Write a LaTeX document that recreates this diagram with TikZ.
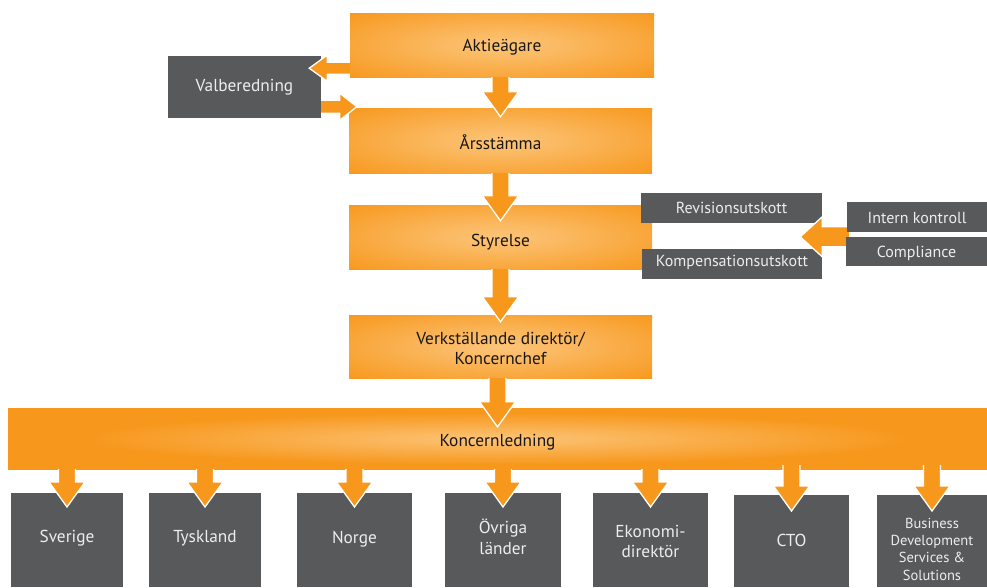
\documentclass[tikz,border=0pt]{standalone}
\usepackage{fontspec}
\setmainfont{PT Sans}
\usetikzlibrary{calc}
\pgfdeclarelayer{front}
\pgfsetlayers{main,front}
\definecolor{orng}{HTML}{F7981D}
\definecolor{glow}{HTML}{FCC478}
\definecolor{gry}{HTML}{58595B}
\definecolor{txtd}{HTML}{1A1718}
\definecolor{txtl}{HTML}{EDEDED}
\pgfdeclareradialshading{boxglow}{\pgfpoint{0bp}{0bp}}{color(0bp)=(glow); color(10bp)=(glow!75!orng); color(36bp)=(orng); color(50bp)=(orng)}
\pgfdeclareradialshading{barglow}{\pgfpoint{0bp}{0bp}}{color(0bp)=(glow); color(4bp)=(glow!80!orng); color(21bp)=(orng); color(50bp)=(orng)}
\tikzset{
  obox/.style={rectangle, inner sep=0pt, shading=boxglow, text=txtd,
    font=\fontsize{17.3}{20}\selectfont},
  gbox/.style={rectangle, inner sep=0pt, fill=gry, text=txtl,
    font=\fontsize{17.3}{21}\selectfont},
  sbox/.style={gbox, font=\fontsize{16}{18}\selectfont},
  bbox/.style={gbox, anchor=north, minimum height=94pt},
  bdown/.style={text height=#1pt, text depth=0pt},   % first baseline #1/2 below centre
  bup/.style={text height=0pt, text depth=#1pt},     % first baseline #1/2 above centre
  afill/.style={fill=orng},
  aline/.style={draw=white, line width=1.3pt, line join=miter},
}
\newcommand\lines[1]{\begin{tabular}[t]{@{}c@{}}#1\end{tabular}}
% down arrow: #1 start point (its y), #2 target node, #3 overlap of tip into target
\newcommand\dnarrow[3]{%
  \path let \p1=#1, \p2=(#2.north) in [afill]
    (\x2-8.5pt,\y1) -- (\x2-8.5pt,\y2-#3pt+25pt) -- (\x2-18pt,\y2-#3pt+25pt) -- (\x2,\y2-#3pt)
    -- (\x2+18pt,\y2-#3pt+25pt) -- (\x2+8.5pt,\y2-#3pt+25pt) -- (\x2+8.5pt,\y1) -- cycle;
  \path let \p1=#1, \p2=(#2.north) in [aline]
    (\x2-8.5pt,\y1) -- (\x2-8.5pt,\y2-#3pt+25pt) -- (\x2-18pt,\y2-#3pt+25pt) -- (\x2,\y2-#3pt)
    -- (\x2+18pt,\y2-#3pt+25pt) -- (\x2+8.5pt,\y2-#3pt+25pt) -- (\x2+8.5pt,\y1);
}
% horizontal arrow: #1 start point, #2 tip point (x only), #3 shaft half, #4 head half,
% #5 head length (positive: points left, negative: points right)
\newcommand\harrow[5]{%
  \path let \p1=#1, \p2=#2 in [afill]
    (\x1,\y1+#3pt) -- (\x2+#5pt,\y1+#3pt) -- (\x2+#5pt,\y1+#4pt) -- (\x2,\y1)
    -- (\x2+#5pt,\y1-#4pt) -- (\x2+#5pt,\y1-#3pt) -- (\x1,\y1-#3pt) -- cycle;
  \path let \p1=#1, \p2=#2 in [aline]
    (\x1,\y1+#3pt) -- (\x2+#5pt,\y1+#3pt) -- (\x2+#5pt,\y1+#4pt) -- (\x2,\y1)
    -- (\x2+#5pt,\y1-#4pt) -- (\x2+#5pt,\y1-#3pt) -- (\x1,\y1-#3pt);
}
\begin{document}
\begin{tikzpicture}[x=1pt,y=-1pt]
\fill[white] (0,0) rectangle (987,587);
\useasboundingbox (0,0) rectangle (987,587);

% main column
\node[obox, bdown=12, minimum width=304pt, minimum height=64pt] (akt) at (502,45) {Aktieägare};
\node[gbox, bdown=8, minimum width=153pt, minimum height=62pt] (vb) at (244.5,87) {Valberedning};
\node[obox, bdown=18, minimum width=303pt, minimum height=65pt] (ars) at (500.5,140.5) {Årsstämma};
\node[obox, bdown=19, minimum width=303pt, minimum height=64pt] (sty) at (500.5,237) {Styrelse};
\node[obox, bup=5, minimum width=303pt, minimum height=63pt] (vd) at (500.5,346.5) {\lines{Verkställande direktör/\\Koncernchef}};
\node[obox, bdown=15, shading=barglow, minimum width=979pt, minimum height=61pt] (kl) at (497.5,438.5) {Koncernledning};

% committees
\node[sbox, bdown=10, minimum width=181pt, minimum height=30pt] (rev) at (731.5,208) {Revisionsutskott};
\node[sbox, bdown=4, minimum width=180pt, minimum height=30pt] (komp) at (732,264) {Kompensationsutskott};
\begin{pgfonlayer}{front}
\node[sbox, bdown=12, minimum width=140pt, minimum height=30pt] (ik) at (917,217) {Intern kontroll};
\node[sbox, bdown=11, minimum width=141pt, minimum height=29pt] (comp) at (916.5,251.5) {Compliance};
\end{pgfonlayer}

% bottom units
\node[bbox, bdown=4, minimum width=112pt] (sve) at (67,493) {Sverige};
\node[bbox, bdown=4, minimum width=112pt] (tys) at (205,493) {Tyskland};
\node[bbox, bdown=6, minimum width=115pt] (nor) at (354.5,493) {Norge};
\node[bbox, bup=14, minimum width=116pt] (ovr) at (503,493) {\lines{Övriga\\länder}};
\node[bbox, bup=6, minimum width=115pt, font=\fontsize{17.3}{20}\selectfont] (eko) at (650.5,493) {\lines{Ekonomi-\\direktör}};
\node[bbox, bdown=10, minimum width=115pt, minimum height=92pt] (cto) at (791.5,495) {CTO};
\node[bbox, bup=26, minimum width=110pt, minimum height=92pt, font=\fontsize{14.5}{17.3}\selectfont] (bus) at (932,495) {\lines{Business\\Development\\Services \&\\Solutions}};

% side arrows
\harrow{($(akt.south west)+(0,-9)$)}{($(vb.east)+(-12,0)$)}{6}{13}{18}
\harrow{($(vb.south east)+(0,-11.5)$)}{($(ars.west)+(8,0)$)}{6.5}{13.5}{-17}
\harrow{($(comp.north west)+(3,0)$)}{($(rev.east)+(-22,0)$)}{10}{20}{22}

% main column arrows
\dnarrow{(akt.south)}{ars}{9}
\dnarrow{(ars.south)}{sty}{16}
\dnarrow{(sty.south)}{vd}{7}
\dnarrow{(vd.south)}{kl}{19}

% arrows to units
\dnarrow{(kl.south)}{sve}{14}
\dnarrow{(kl.south)}{tys}{14}
\dnarrow{(kl.south)}{nor}{14}
\dnarrow{(kl.south)}{ovr}{14}
\dnarrow{(kl.south)}{eko}{14}
\dnarrow{($(kl.south)+(0,-4)$)}{cto}{16}
\dnarrow{($(kl.south)+(0,-4)$)}{bus}{16}
\end{tikzpicture}
\end{document}
